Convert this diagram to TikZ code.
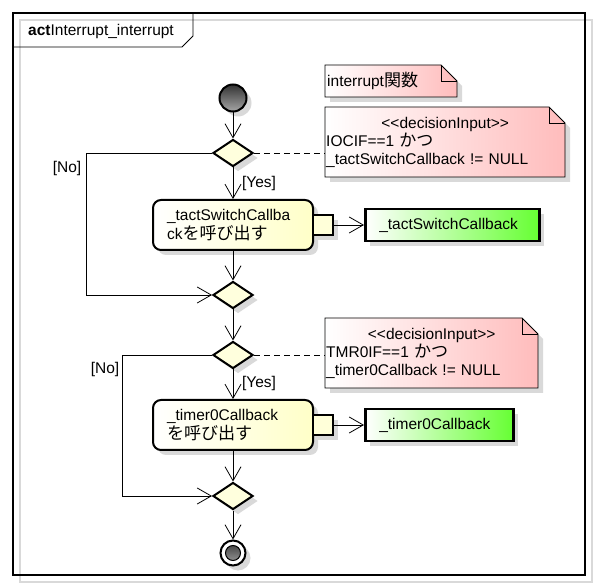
\documentclass[tikz,border=0pt]{standalone}
\usepackage{fontspec}
\setmainfont{Liberation Sans}
\newfontfamily\jp{Noto Sans CJK JP}[Scale=1.1]
\usetikzlibrary{positioning,shapes.geometric,arrows.meta,shadows,calc}

\definecolor{decfill}{RGB}{255,255,221}
\definecolor{actfill}{RGB}{255,255,200}
\definecolor{objgreen}{RGB}{102,255,51}
\definecolor{notepink}{RGB}{255,188,188}
\definecolor{shadowgray}{RGB}{217,217,217}

\tikzset{
  txt/.style={font=\fontsize{15.5}{18}\selectfont, inner sep=0pt},
  sdw/.style={drop shadow={shadow xshift=5pt, shadow yshift=-5pt, fill=shadowgray, opacity=1}},
  flow/.style={-{Straight Barb[length=14pt,width=16pt]}, line width=0.8pt},
  decbox/.style={diamond, draw, line width=2pt, fill=decfill, minimum width=40pt, minimum height=27pt, inner sep=0pt, sdw},
  actbox/.style={rectangle, rounded corners=8pt, draw, line width=2pt, left color=white, right color=actfill, minimum width=160pt, minimum height=50pt, text width=132pt, align=left, inner xsep=14pt, inner ysep=0pt, sdw, font=\fontsize{15.5}{17}\selectfont},
  pinbox/.style={rectangle, draw, line width=2pt, fill=actfill!70, minimum width=20pt, minimum height=20pt, inner sep=0pt, sdw},
  objbox/.style={rectangle, draw, line width=2.5pt, left color=white, right color=objgreen, minimum height=32pt, inner xsep=14pt, inner ysep=0pt, align=left, sdw, txt},
  notefill/.style={draw, line width=0.8pt, left color=white, right color=notepink, sdw},
  notetxt/.style={txt, anchor=west, align=left},
  startdot/.style={circle, draw, line width=2pt, minimum size=27pt, inner sep=0pt, top color=black!80, bottom color=black!35, sdw},
  enddot/.style={circle, draw, line width=2pt, minimum size=25pt, inner sep=0pt, fill=white, sdw,
    path picture={\draw[line width=1pt, top color=black!80, bottom color=black!35] (path picture bounding box.center) circle (7.5pt);}},
  guard/.style={dashed, dash pattern=on 6pt off 4pt, line width=0.8pt}
}

% note with folded corner, #1 = top left, #2 = bottom right
\newcommand{\notebox}[2]{%
  \path[notefill] (#1) -- ($(#1-|#2)+(-16,0)$) -- ($(#1-|#2)+(0,16)$) -- (#2) -- (#1|-#2) -- cycle;
  \draw[line width=0.8pt] ($(#1-|#2)+(-16,0)$) |- ($(#1-|#2)+(0,16)$);
}

\begin{document}
\begin{tikzpicture}[x=1pt,y=-1pt]
\useasboundingbox[fill=white] (0,0) rectangle (598,588);
% frame
\draw[line width=1.2pt, black!15] (20,20) rectangle (592,582);
\draw[line width=1.2pt] (13,13) rectangle (585,575);
\draw[line width=0.8pt] (13,47) -- (182,47) -- (193,36) -- (193,13);
\node[txt, anchor=west] (title) at (28,31) {\textbf{act}Interrupt\_interrupt};

% notes
\coordinate (n1a) at (325,65); \coordinate (n1b) at (457,97);
\notebox{n1a}{n1b}
\node[notetxt] (n1) at (327,81) {interrupt{\jp 関数}};
\coordinate (n2a) at (325,107); \coordinate (n2b) at (565,177);
\notebox{n2a}{n2b}
\node[notetxt, text width=238pt] (n2) at (326,142) {\makebox[\linewidth]{<\kern0pt<decisionInput>\kern0pt>}\\IOCIF==1 {\jp かつ}\\\_tactSwitchCallback != NULL};
\coordinate (n3a) at (325,318); \coordinate (n3b) at (538,388);
\notebox{n3a}{n3b}
\node[notetxt, text width=211pt] (n3) at (326,353) {\makebox[\linewidth]{<\kern0pt<decisionInput>\kern0pt>}\\TMR0IF==1 {\jp かつ}\\\_timer0Callback != NULL};

% flow nodes
\node[startdot] (start) at (233,98) {};
\node[decbox] (d1) at (233,153) {};
\node[actbox] (act1) at (233,225) {\_tactSwitchCallba\\ck{\jp を呼び出す}};
\node[pinbox, right=-2pt of act1] (pin1) {};
\node[objbox, right=30pt of pin1, minimum width=174pt, text width=146pt] (obj1) {\_tactSwitchCallback};
\node[decbox] (d2) at (233,295) {};
\node[decbox] (d3) at (233,355) {};
\node[actbox] (act2) at (233,425) {\_timer0Callback\\{\jp を呼び出す}};
\node[pinbox, right=-2pt of act2] (pin2) {};
\node[objbox, right=30pt of pin2, minimum width=148pt, text width=120pt] (obj2) {\_timer0Callback};
\node[decbox] (d4) at (233,496) {};
\node[enddot] (stop) at (233,553) {};

% guards
\node[txt] (yes1) at (259,183) {[Yes]};
\node[txt] (no1lbl) at (67,168) {[No]};
\node[txt] (yes2) at (259,383) {[Yes]};
\node[txt] (no2lbl) at (105,369) {[No]};
\coordinate (no1) at (86,153);
\coordinate (no2) at (122,355);

% connectors
\draw[flow] (start) -- (d1);
\draw[flow] (d1) -- (act1);
\draw[flow] (d1.west) -- (no1) |- (d2.west);
\draw[flow] (act1) -- (d2);
\draw[flow] (pin1) -- (obj1);
\draw[flow] (d2) -- (d3);
\draw[flow] (d3) -- (act2);
\draw[flow] (d3.west) -- (no2) |- (d4.west);
\draw[flow] (act2) -- (d4);
\draw[flow] (pin2) -- (obj2);
\draw[flow] (d4) -- (stop);
\draw[guard] (d1.east) -- (d1.east -| n2a);
\draw[guard] (d3.east) -- (d3.east -| n3a);
\end{tikzpicture}
\end{document}
